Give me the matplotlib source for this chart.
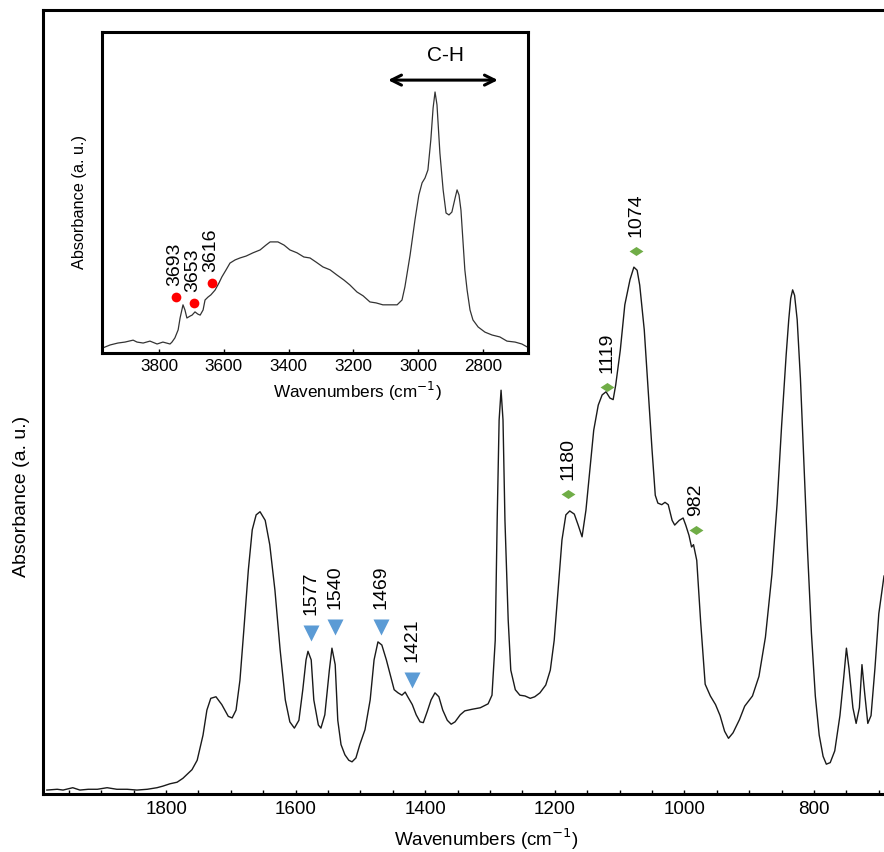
import matplotlib
matplotlib.use("Agg")
import matplotlib.pyplot as plt
from matplotlib.ticker import MultipleLocator

plt.rcParams['font.family'] = ['Liberation Sans', 'DejaVu Sans']

# main spectrum (wavenumber, absorbance in % of full scale)
mainWn = [1984, 1968, 1959, 1944, 1933, 1920, 1906, 1891, 1876, 1860, 1845, 1829, 1814, 1805,
          1794, 1783, 1774, 1765, 1760, 1752, 1743, 1737, 1731, 1723, 1714, 1704, 1698, 1692,
          1686, 1680, 1673, 1667, 1661, 1655, 1647, 1640, 1632, 1624, 1616, 1609, 1602, 1595,
          1589, 1584, 1581, 1576, 1572, 1565, 1561, 1555, 1548, 1544, 1539, 1535, 1530, 1524,
          1518, 1513, 1507, 1501, 1493, 1485, 1479, 1473, 1467, 1460, 1454, 1448, 1442, 1436,
          1431, 1427, 1420, 1414, 1408, 1403, 1397, 1391, 1385, 1379, 1373, 1366, 1360, 1354,
          1346, 1339, 1328, 1315, 1303, 1297, 1292, 1289, 1286, 1283, 1280, 1277, 1272, 1268,
          1261, 1254, 1246, 1238, 1231, 1223, 1214, 1207, 1201, 1195, 1189, 1183, 1177, 1170,
          1164, 1158, 1152, 1146, 1140, 1133, 1127, 1121, 1115, 1110, 1106, 1099, 1092, 1084,
          1078, 1073, 1069, 1062, 1056, 1050, 1045, 1041, 1035, 1030, 1025, 1019, 1015, 1008,
          1002, 998, 993, 989, 986, 981, 975, 968, 960, 952, 945, 938, 932, 925, 915, 907,
          895, 885, 875, 865, 857, 850, 843, 839, 836, 833, 830, 826, 821, 816, 810, 804, 798,
          792, 786, 781, 775, 768, 760, 754, 750, 746, 740, 735, 730, 726, 722, 717, 712, 706,
          700, 692]
mainAbs = [0.5, 0.6, 0.5, 0.8, 0.5, 0.6, 0.6, 0.8, 0.6, 0.6, 0.5, 0.6, 0.8, 1.0,
           1.3, 1.5, 2.0, 2.7, 3.1, 4.3, 7.5, 10.7, 12.2, 12.4, 11.4, 9.9, 9.7, 10.7,
           14.5, 20.9, 28.6, 33.7, 35.6, 36.0, 34.9, 31.8, 26.0, 18.4, 12.0, 9.2, 8.4, 9.4,
           13.3, 17.1, 18.2, 17.1, 12.0, 8.8, 8.4, 10.1, 15.8, 18.6, 16.5, 9.4, 6.3, 5.0,
           4.3, 4.1, 4.6, 6.3, 8.2, 12.0, 17.1, 19.4, 19.0, 17.1, 15.2, 13.3, 12.9, 12.6,
           13.0, 12.4, 11.4, 10.1, 9.2, 9.1, 10.5, 12.0, 12.9, 12.4, 10.7, 9.4, 8.9, 9.2,
           10.1, 10.6, 10.8, 11.0, 11.5, 12.6, 19.6, 34.9, 47.7, 51.5, 47.7, 34.9, 22.2, 15.8,
           13.3, 12.6, 12.5, 12.2, 12.4, 12.9, 13.9, 15.8, 19.6, 26.0, 32.4, 35.6, 36.1, 35.7,
           34.3, 32.8, 36.2, 41.3, 46.4, 49.6, 50.9, 51.3, 50.5, 50.3, 52.2, 56.6, 62.4, 65.6,
           67.2, 66.8, 64.9, 59.2, 51.5, 43.9, 38.1, 37.1, 36.9, 37.2, 36.9, 34.9, 34.3, 34.9,
           35.2, 34.3, 33.0, 31.5, 31.8, 29.8, 22.0, 14.0, 12.5, 11.4, 10.0, 8.0, 7.1, 7.8, 9.5, 11.2,
           12.5, 15.0, 20.0, 28.0, 37.0, 47.0, 56.0, 60.5, 63.2, 64.3, 63.6, 60.5, 53.0, 43.0, 31.0, 20.5, 12.5,
           7.5, 4.8, 3.8, 4.0, 5.5, 10.0, 15.0, 18.6, 16.0, 11.0, 9.0, 11.0, 16.5, 13.0, 9.0, 10.0, 16.0,
           23.0, 27.8]

# inset spectrum (O-H / C-H region)
insetWn = [3973, 3951, 3927, 3905, 3880, 3868, 3849, 3828, 3806, 3788, 3766, 3760, 3751, 3741,
           3735, 3726, 3720, 3714, 3704, 3698, 3689, 3680, 3673, 3664, 3658, 3649, 3640, 3627,
           3615, 3606, 3593, 3581, 3565, 3550, 3531, 3510, 3488, 3470, 3457, 3433, 3414, 3396,
           3374, 3353, 3334, 3315, 3294, 3272, 3251, 3229, 3211, 3189, 3170, 3149, 3130, 3109,
           3087, 3065, 3050, 3041, 3025, 3010, 2998, 2988, 2979, 2970, 2961, 2954, 2948, 2942,
           2933, 2923, 2914, 2905, 2896, 2886, 2880, 2874, 2868, 2862, 2856, 2849, 2840, 2831,
           2815, 2794, 2772, 2748, 2726, 2701, 2680, 2664]
insetAbs = [1.6, 2.5, 3.1, 3.4, 4.0, 3.4, 3.1, 3.7, 2.8, 3.4, 2.8, 3.4, 4.7, 7.2,
            10.9, 15.0, 13.4, 10.9, 11.5, 11.8, 12.8, 12.1, 11.8, 13.4, 16.5, 17.4, 18.1, 19.6,
            21.8, 23.7, 25.9, 28.0, 29.0, 29.6, 30.2, 31.2, 32.1, 33.6, 34.6, 34.6, 33.6, 32.1,
            31.2, 29.9, 29.6, 28.3, 26.8, 25.9, 24.3, 22.7, 21.2, 19.0, 17.8, 15.9, 15.6, 15.0,
            15.0, 15.0, 16.5, 20.6, 30.5, 41.4, 49.2, 53.0, 54.5, 57.0, 66.4, 76.3, 81.3, 77.3,
            62.3, 50.8, 43.6, 43.0, 43.9, 48.3, 50.8, 49.2, 44.5, 35.2, 25.9, 19.6, 13.4, 10.3,
            8.1, 6.5, 5.6, 5.0, 3.7, 3.4, 2.8, 1.9]

# band markers
blueBands = [1577, 1540, 1469, 1421]
blueAbs = [20.5, 21.3, 21.3, 14.5]
greenBands = [1180, 1119, 1074, 982]
greenAbs = [38.3, 51.9, 69.3, 33.7]
redBands = ['3693', '3653', '3616']
redWn = [3748, 3692, 3636]
redAbs = [17.4, 15.6, 21.8]

fig = plt.figure(figsize=(8.84, 8.52), dpi=100)
ax = fig.add_axes([0.0486, 0.0681, 0.9514, 0.9202])
ax.plot(mainWn, mainAbs, color='#1a1a1a', lw=1.0)
ax.set_xlim(1990, 692)
ax.set_ylim(0, 100)
ax.set_yticks([])
ax.xaxis.set_major_locator(MultipleLocator(200))
ax.xaxis.set_minor_locator(MultipleLocator(50))
ax.tick_params(axis='x', which='both', direction='in', length=3, width=1, top=False)
ax.tick_params(axis='x', which='major', labelsize=13.5, pad=5)
for side in ['left', 'bottom', 'top']:
    ax.spines[side].set_linewidth(2.2)
ax.spines['right'].set_visible(False)

ax.plot(blueBands, blueAbs, 'v', color='#5B9BD5', ms=11, mec='none', clip_on=False)
for wn, a in zip(blueBands, blueAbs):
    ax.annotate(str(wn), (wn, a), xytext=(0, 13), textcoords='offset points',
                rotation=90, ha='center', va='bottom', fontsize=14)
diamond = [(-1, 0), (0, 0.65), (1, 0), (0, -0.65)]
ax.plot(greenBands, greenAbs, ls='none', marker=diamond, color='#70AD47', ms=10, mec='none')
for wn, a in zip(greenBands, greenAbs):
    ax.annotate(str(wn), (wn, a), xytext=(0, 10), textcoords='offset points',
                rotation=90, ha='center', va='bottom', fontsize=14)

ax.set_xlabel('Wavenumbers (cm$^{-1}$)', fontsize=13.5)
ax.xaxis.set_label_coords(0.527, -0.041)
ax.set_ylabel('Absorbance (a. u.)', fontsize=14)
ax.yaxis.set_label_coords(-0.0155, 0.379)

# inset
ins = fig.add_axes([0.1154, 0.5857, 0.4819, 0.3768])
ins.plot(insetWn, insetAbs, color='#333333', lw=0.9)
ins.set_xlim(3976, 2661)
ins.set_ylim(0, 100)
ins.set_yticks([])
ins.xaxis.set_major_locator(MultipleLocator(200))
ins.tick_params(axis='x', direction='in', length=3, width=1, labelsize=12.3, pad=4)
for side in ins.spines:
    ins.spines[side].set_linewidth(2.2)
ins.plot(redWn, redAbs, 'o', color='#FF0000', ms=7, mec='none')
for lab, wn, a in zip(redBands, redWn, redAbs):
    ins.annotate(lab, (wn, a), xytext=(-1, 8), textcoords='offset points',
                 rotation=90, ha='center', va='bottom', fontsize=14)
ins.annotate('', xy=(2754, 85), xytext=(3093, 85),
             arrowprops=dict(arrowstyle='<->', color='black', lw=2.2, mutation_scale=18,
                             shrinkA=0, shrinkB=0))
ins.text(2917, 92.8, 'C-H', ha='center', va='center', fontsize=15)
ins.set_xlabel('Wavenumbers (cm$^{-1}$)', fontsize=12.3)
ins.xaxis.set_label_coords(0.599, -0.085)
ins.set_ylabel('Absorbance (a. u.)', fontsize=11.7)
ins.yaxis.set_label_coords(-0.036, 0.47)

fig.savefig('out.png', dpi=100)
